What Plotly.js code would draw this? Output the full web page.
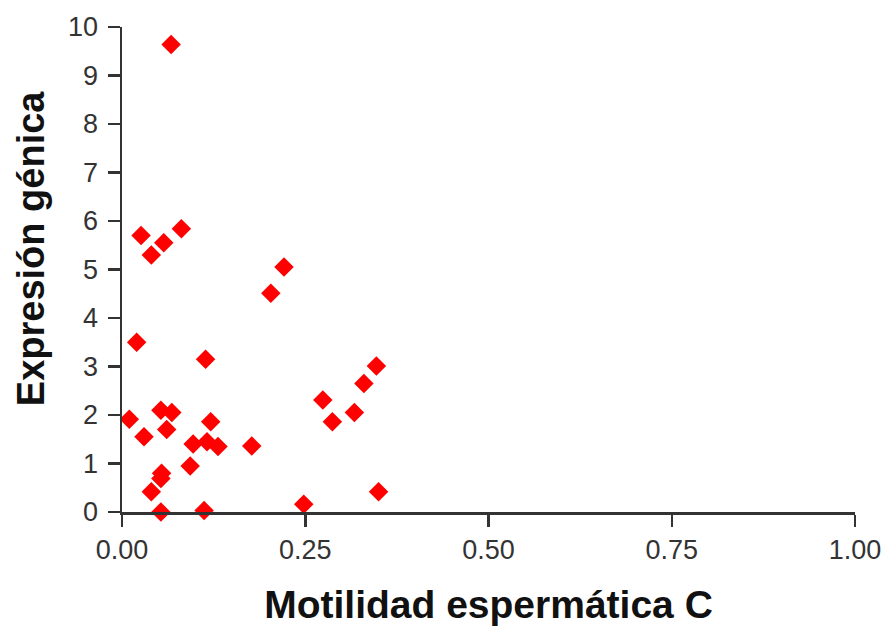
<!DOCTYPE html>
<html>
<head>
<meta charset="utf-8">
<script src="https://cdn.plot.ly/plotly-3.0.1.min.js"></script>
<style>html,body{margin:0;padding:0;background:#fff;}#chart{width:896px;height:630px;}</style>
</head>
<body>
<div id="chart"></div>
<script>
const motilidadC = [0.067, 0.026, 0.040, 0.057, 0.081, 0.221, 0.203, 0.020, 0.114, 0.347, 0.330, 0.274, 0.317, 0.287, 0.010, 0.053, 0.068, 0.061, 0.030, 0.121, 0.097, 0.116, 0.131, 0.177, 0.093, 0.054, 0.053, 0.040, 0.350, 0.248, 0.053, 0.112];
const expresion = [9.64, 5.70, 5.30, 5.55, 5.84, 5.05, 4.51, 3.50, 3.15, 3.01, 2.65, 2.31, 2.05, 1.86, 1.91, 2.10, 2.05, 1.70, 1.55, 1.86, 1.40, 1.45, 1.35, 1.36, 0.95, 0.80, 0.69, 0.42, 0.42, 0.16, 0.00, 0.03];
const xTickVals = [0, 0.25, 0.5, 0.75, 1.0];
const xTickText = ["0.00", "0.25", "0.50", "0.75", "1.00"];
const yTickVals = [0,1,2,3,4,5,6,7,8,9,10];
const xTitle = 'Motilidad espermática C';
const yTitle = 'Expresión génica';

const trace = {
  x: motilidadC, y: expresion, type: 'scatter', mode: 'markers',
  marker: {symbol: 'diamond', size: 15, color: '#ff0000', line: {width: 0}},
  cliponaxis: false, hoverinfo: 'x+y'
};
const axisCommon = {
  showgrid: false, zeroline: false, showline: true, linecolor: '#333', linewidth: 2.5,
  ticks: 'outside', ticklen: 12, tickwidth: 2.5, tickcolor: '#333',
  tickfont: {family: 'Liberation Sans, Arial, sans-serif', size: 27, color: '#333'}
};
const layout = {
  width: 896, height: 630,
  margin: {l: 122, r: 41, t: 27, b: 118},
  paper_bgcolor: '#fff', plot_bgcolor: '#fff',
  showlegend: false,
  xaxis: Object.assign({}, axisCommon, {
    range: [0, 1], tickvals: xTickVals, ticktext: xTickText,
    title: {text: '<b>' + xTitle + '</b>', standoff: 27,
      font: {family: 'Liberation Sans, Arial, sans-serif', size: 39, color: '#111'}}
  }),
  yaxis: Object.assign({}, axisCommon, {
    range: [0, 10], tickvals: yTickVals, ticklabelstandoff: 4
  }),
  annotations: [{
    text: '<b>' + yTitle + '</b>', textangle: -90, showarrow: false,
    xref: 'paper', yref: 'paper', x: -0.1241, y: 0.544,
    xanchor: 'center', yanchor: 'middle',
    font: {family: 'Liberation Sans, Arial, sans-serif', size: 38, color: '#111'}
  }]
};
Plotly.newPlot('chart', [trace], layout, {displayModeBar: false, staticPlot: true});
</script>
</body>
</html>
